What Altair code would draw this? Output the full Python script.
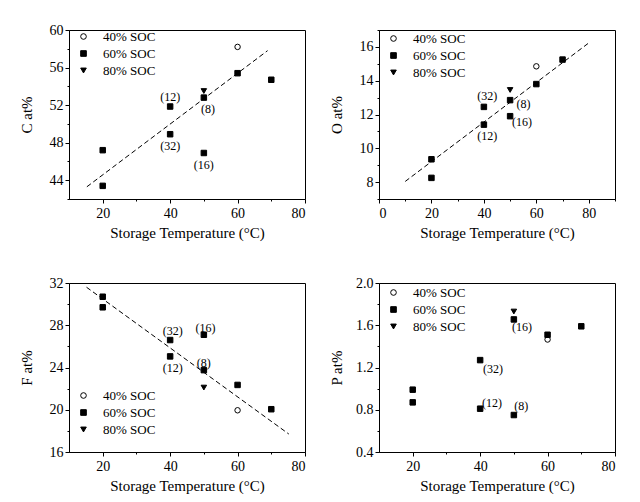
import altair as alt
import pandas as pd

FONT = "Liberation Serif"
SOC = ["40% SOC", "60% SOC", "80% SOC"]
X_TITLE = "Storage Temperature (°C)"

# storage temperatures of the samples
temps_60 = [20, 20, 40, 40, 50, 50, 60, 70]
temp_40 = 60
temp_80 = 50

# atomic concentrations (at%)
C_60 = [47.2, 43.4, 51.85, 48.9, 52.8, 46.9, 55.4, 54.7]
C_40 = 58.2
C_80 = 53.5
O_60 = [9.35, 8.25, 12.45, 11.4, 12.85, 11.9, 13.8, 15.25]
O_40 = 14.85
O_80 = 13.45
F_60 = [30.7, 29.7, 26.6, 25.05, 27.1, 23.75, 22.35, 20.05]
F_40 = 19.95
F_80 = 22.1
P_60 = [0.99, 0.87, 1.27, 0.81, 1.655, 0.75, 1.51, 1.59]
P_40 = 1.465
P_80 = 1.73

# storage time annotations (text, anchor temperature, anchor value)
C_lab = ["(12)", "(8)", "(32)", "(16)"]
C_lab_T = [40, 51.2, 40, 50]
C_lab_v = [52.9, 51.6, 47.65, 45.6]
O_lab = ["(32)", "(8)", "(16)", "(12)"]
O_lab_T = [41.3, 55.1, 54.5, 41.3]
O_lab_v = [13.07, 12.62, 11.54, 10.71]
F_lab = ["(32)", "(16)", "(12)", "(8)"]
F_lab_T = [40.8, 50.5, 40.8, 50.0]
F_lab_v = [27.5, 27.76, 24.0, 24.44]
P_lab = ["(16)", "(32)", "(12)", "(8)"]
P_lab_T = [52.4, 43.8, 43.5, 52.2]
P_lab_v = [1.583, 1.19, 0.867, 0.836]

# dashed linear trend lines (end points)
C_fit_T = [15.3, 68.9]
C_fit_v = [43.3, 57.8]
O_fit_T = [10, 79.7]
O_fit_v = [8.04, 16.2]
F_fit_T = [15.2, 75.2]
F_fit_v = [31.6, 17.7]


def panel(ytitle, v60, v40, v80, xdom, xvals, ydom, yvals, ytest, yfmt,
          lab, lab_T, lab_v, fit_T=None, fit_v=None, legend_y=0):
    pts = pd.DataFrame({
        "T": temps_60 + [temp_40, temp_80],
        "v": v60 + [v40, v80],
        "SOC": [SOC[1]] * len(temps_60) + [SOC[0], SOC[2]],
    })
    x_enc = alt.X(
        "T:Q",
        scale=alt.Scale(domain=xdom, nice=False, zero=False),
        axis=alt.Axis(
            values=xvals,
            title=X_TITLE,
            labelExpr="datum.value % 20 == 0 ? datum.label : ''",
            tickSize={"condition": {"test": "datum.value % 20 == 0", "value": 4}, "value": 2},
            labelPadding=3,
            titlePadding=5,
        ),
    )
    y_enc = alt.Y(
        "v:Q",
        scale=alt.Scale(domain=ydom, nice=False, zero=False),
        axis=alt.Axis(
            values=yvals,
            title=ytitle,
            format=yfmt,
            labelExpr=f"({ytest}) ? datum.label : ''",
            tickSize={"condition": {"test": ytest, "value": 4}, "value": 2},
            labelPadding=2,
            minExtent=30,
            maxExtent=30,
            titlePadding=5,
        ),
    )
    leg = alt.Legend(orient="none", legendX=8, legendY=legend_y, title=None, labelFont=FONT)
    points = alt.Chart(pts).mark_point(filled=True, stroke="black", strokeWidth=1, size=30, opacity=1).encode(
        x=x_enc,
        y=y_enc,
        shape=alt.Shape("SOC:N", scale=alt.Scale(domain=SOC, range=["circle", "square", "triangle-down"]), legend=leg),
        fill=alt.Fill("SOC:N", scale=alt.Scale(domain=SOC, range=["white", "black", "black"]), legend=leg),
        order=alt.Order("SOC:N"),
    )
    labels = alt.Chart(pd.DataFrame({"T": lab_T, "v": lab_v, "t": lab})).mark_text(
        font=FONT, fontSize=12, color="black", baseline="middle", align="center"
    ).encode(x=x_enc, y=y_enc, text="t:N")
    layers = []
    if fit_T is not None:
        line = alt.Chart(pd.DataFrame({"T": fit_T, "v": fit_v})).mark_line(
            color="black", strokeWidth=1, strokeDash=[5, 3]
        ).encode(x=x_enc, y=y_enc)
        layers.append(line)
    layers += [points, labels]
    return alt.layer(*layers).properties(width=236, height=169)


p1 = panel("C at%", C_60, C_40, C_80, [10, 80], list(range(20, 81, 10)), [42, 60],
           list(range(42, 61, 2)), "datum.value % 4 == 0", "d", C_lab, C_lab_T, C_lab_v, C_fit_T, C_fit_v, 0)
p2 = panel("O at%", O_60, O_40, O_80, [0, 90], list(range(0, 91, 10)), [7, 17],
           list(range(7, 18)), "datum.value % 2 == 0", "d", O_lab, O_lab_T, O_lab_v, O_fit_T, O_fit_v, 2)
p3 = panel("F at%", F_60, F_40, F_80, [10, 80], list(range(20, 81, 10)), [16, 32],
           list(range(16, 33, 2)), "datum.value % 4 == 0", "d", F_lab, F_lab_T, F_lab_v, F_fit_T, F_fit_v, 106)
p4 = panel("P at%", P_60, P_40, P_80, [10, 80], list(range(20, 81, 10)), [0.4, 2.0],
           [round(0.4 + 0.2 * i, 1) for i in range(9)], "round(datum.value * 10) % 4 == 0", ".1f",
           P_lab, P_lab_T, P_lab_v, None, None, 3)

chart = alt.concat(p1, p2, p3, p4, columns=2, spacing={"row": 84, "column": 74}, bounds="flush").resolve_scale(
    x="independent", y="independent", shape="independent", fill="independent"
).resolve_legend(shape="independent", fill="independent").properties(
    padding={"left": 10, "top": 14, "right": 5, "bottom": 0},
    background="white",
).configure(font=FONT).configure_view(stroke="black", strokeWidth=1).configure_axis(
    labelFont=FONT, titleFont=FONT, labelFontSize=14, titleFontSize=15, titleFontWeight="normal",
    labelColor="black", titleColor="black", domainColor="black", tickColor="black",
    domainWidth=1, tickWidth=1, grid=False,
).configure_legend(
    labelFont=FONT, labelFontSize=13, labelColor="black", symbolSize=32, rowPadding=3,
    labelOffset=13, padding=0, symbolStrokeColor="black", symbolStrokeWidth=1,
    symbolFillColor="black",
)

chart.save("out.html", embed_options={"renderer": "svg", "actions": False})
